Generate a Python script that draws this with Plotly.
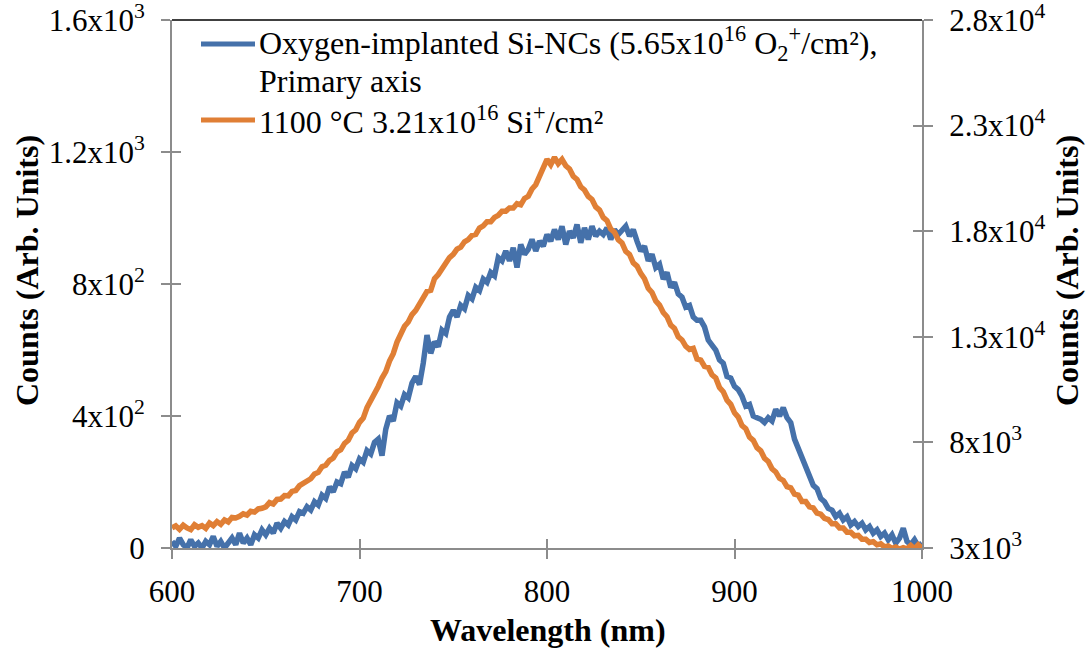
import plotly.graph_objects as go

wavelength = list(range(600, 1001, 2))

blue_counts = [
    20, 5, 30, 10, 0, 25, 5, 15, 0, 20,
    10, 35, 5, 20, 0, 15, 30, 10, 45, 15,
    30, 10, 40, 30, 55, 40, 60, 45, 75, 60,
    80, 70, 95, 85, 110, 105, 125, 115, 140, 130,
    160, 150, 185, 170, 200, 195, 230, 215, 250, 240,
    270, 260, 295, 285, 320, 330, 280, 360, 400, 385,
    440, 430, 465, 455, 500, 520, 495, 560, 645, 590,
    625, 610, 660, 650, 700, 720, 700, 735, 725, 765,
    755, 790, 780, 815, 805, 835, 825, 880, 870, 900,
    870, 910, 850, 920, 890, 905, 935, 900, 930, 915,
    950, 930, 965, 935, 975, 920, 960, 940, 980, 925,
    970, 935, 975, 945, 960, 950, 970, 935, 965, 950,
    960, 975, 945, 965, 930, 900, 915, 870, 890, 850,
    860, 815, 835, 790, 805, 770, 760, 730, 735, 700,
    690, 690, 670, 630, 615, 600, 570, 560, 520, 515,
    490, 480, 460, 430, 435, 400, 395, 390, 380, 395,
    385, 420, 400, 425, 395, 380, 330, 300, 270, 240,
    220, 190, 180, 150, 140, 120, 115, 95, 105, 85,
    95, 70, 80, 65, 75, 55, 65, 45, 55, 35,
    45, 25, 40, 15, 30, 60, 20, 10, 25, 5,
    15,
]

orange_counts = [
    3950, 4050, 3880, 4080, 3950, 3870, 4100, 3980, 4060, 3930,
    4180, 4060, 4250, 4120, 4330, 4230, 4450, 4420, 4500, 4620,
    4560, 4740, 4700, 4850, 4880, 4950, 5150, 5080, 5300, 5320,
    5480, 5470, 5680, 5720, 5950, 6050, 6180, 6280, 6500, 6580,
    6850, 6920, 7150, 7260, 7550, 7650, 7950, 8100, 8450, 8600,
    8950, 9150, 9650, 9950, 10350, 10650, 11050, 11350, 11850, 12200,
    12750, 13100, 13500, 13700, 14050, 14250, 14550, 14750, 15150, 15200,
    15750, 15950, 16250, 16450, 16750, 16900, 17150, 17250, 17500, 17600,
    17800, 17850, 18150, 18250, 18450, 18450, 18650, 18750, 18950, 18950,
    19100, 19100, 19300, 19250, 19550, 19650, 20000, 20200, 20650, 20950,
    21400, 21150, 21500, 21200, 21400, 21100, 20950, 20600, 20450, 20100,
    19950, 19650, 19500, 19150, 19000, 18650, 18500, 18100, 17950, 17600,
    17450, 17050, 16900, 16500, 16350, 16000, 15750, 15300, 15100, 14700,
    14500, 14150, 13950, 13550, 13400, 13000, 12850, 12550, 12400, 12450,
    11950, 11900, 11600, 11550, 11200, 11050, 10600, 10400, 10000, 9800,
    9400, 9200, 8800, 8650, 8250, 8100, 7750, 7600, 7250, 7100,
    6750, 6600, 6300, 6200, 5900, 5850, 5550, 5500, 5200, 5200,
    4950, 4900, 4650, 4600, 4400, 4350, 4150, 4150, 3950, 3950,
    3750, 3750, 3580, 3600, 3420, 3420, 3260, 3300, 3150, 3200,
    3050, 3100, 2980, 3050, 2950, 3020, 2960, 3120, 2960, 3150,
    3000,
]

x_ticks = [600, 700, 800, 900, 1000]
left_tickvals = [0, 400, 800, 1200, 1600]
left_ticktext = ["0", "4x10<sup>2</sup>", "8x10<sup>2</sup>", "1.2x10<sup>3</sup>", "1.6x10<sup>3</sup>"]
right_tickvals = [3000, 8000, 13000, 18000, 23000, 28000]
right_ticktext = ["3x10<sup>3</sup>", "8x10<sup>3</sup>", "1.3x10<sup>4</sup>", "1.8x10<sup>4</sup>",
                  "2.3x10<sup>4</sup>", "2.8x10<sup>4</sup>"]

blue_name_l1 = "Oxygen-implanted Si-NCs (5.65x10<sup>16</sup> O<sub>2</sub><sup>+</sup>/cm²),"
blue_name_l2 = "Primary axis"
orange_name = "1100 °C 3.21x10<sup>16</sup> Si<sup>+</sup>/cm²"

BLUE = "#4571AA"
ORANGE = "#E07F35"
AXIS = "#8C8C8C"
FONT = "Times New Roman, Liberation Serif, Tinos, DejaVu Serif, serif"

# plot area in pixels: x 172..922, y 20..548
def px(xp):
    return (xp - 172) / 750.0

def py(yp):
    return (548 - yp) / 528.0

fig = go.Figure()
fig.add_trace(go.Scatter(x=wavelength, y=blue_counts, mode="lines", name="blue",
                         line=dict(color=BLUE, width=5.5), yaxis="y", showlegend=False))
fig.add_trace(go.Scatter(x=wavelength, y=orange_counts, mode="lines", name="orange",
                         line=dict(color=ORANGE, width=5.5), yaxis="y2", showlegend=False))
fig.add_trace(go.Scatter(x=[None], y=[None], xaxis="x2", yaxis="y3", showlegend=False, hoverinfo="skip"))
fig.add_trace(go.Scatter(x=[None], y=[None], xaxis="x2", yaxis="y4", showlegend=False, hoverinfo="skip"))

tickfont = dict(family=FONT, size=31, color="black")
legfont = dict(family=FONT, size=32, color="black")
titlefont = dict(family=FONT, size=32, color="black")

fig.update_layout(
    width=1087, height=648,
    margin=dict(l=172, r=165, t=20, b=100, autoexpand=False),
    paper_bgcolor="white", plot_bgcolor="white",
    font=dict(family=FONT, size=31, color="black"),
    showlegend=False,
    xaxis=dict(range=[600, 1000], tickvals=x_ticks, ticks="outside", ticklen=9,
               tickcolor=AXIS, tickwidth=1.5, showline=True, linecolor=AXIS, linewidth=2,
               showgrid=False, zeroline=False, tickfont=tickfont, ticklabelstandoff=6,
               ticklabeloverflow="allow", automargin=False),
    xaxis2=dict(range=[600, 1000], overlaying="x", tickvals=x_ticks, ticks="inside", ticklen=9,
                tickcolor=AXIS, tickwidth=1.5, showticklabels=False, showline=False,
                showgrid=False, zeroline=False, automargin=False),
    yaxis=dict(range=[0, 1600], tickvals=left_tickvals, ticktext=left_ticktext,
               ticks="outside", ticklen=9, tickcolor=AXIS, tickwidth=1.5,
               showline=True, linecolor=AXIS, linewidth=2, showgrid=False, zeroline=False,
               tickfont=tickfont, ticklabelstandoff=10, ticklabeloverflow="allow",
               automargin=False),
    yaxis2=dict(range=[3000, 28000], overlaying="y", side="right", tickvals=right_tickvals,
                ticktext=right_ticktext, ticks="outside", ticklen=9, tickcolor=AXIS, tickwidth=1.5,
                showline=True, linecolor=AXIS, linewidth=2, showgrid=False, zeroline=False,
                tickfont=tickfont, ticklabelstandoff=10, ticklabeloverflow="allow",
                automargin=False),
    yaxis3=dict(range=[0, 1600], overlaying="y", side="left", tickvals=left_tickvals,
                ticks="inside", ticklen=9, tickcolor=AXIS, tickwidth=1.5, showticklabels=False,
                showline=False, showgrid=False, zeroline=False, automargin=False),
    yaxis4=dict(range=[3000, 28000], overlaying="y", side="right", tickvals=right_tickvals,
                ticks="inside", ticklen=9, tickcolor=AXIS, tickwidth=1.5, showticklabels=False,
                showline=False, showgrid=False, zeroline=False, automargin=False),
    shapes=[
        dict(type="line", xref="paper", yref="paper", x0=0, x1=1, y0=1, y1=1,
             line=dict(color="black", width=1.5)),
        dict(type="line", xref="paper", yref="paper", x0=px(201), x1=px(255), y0=py(44), y1=py(44),
             line=dict(color=BLUE, width=5)),
        dict(type="line", xref="paper", yref="paper", x0=px(201), x1=px(255), y0=py(120), y1=py(120),
             line=dict(color=ORANGE, width=5)),
    ],
    annotations=[
        dict(text=blue_name_l1, xref="paper", yref="paper", x=px(257), y=py(44),
             xanchor="left", yanchor="middle", showarrow=False, font=legfont),
        dict(text=blue_name_l2, xref="paper", yref="paper", x=px(257), y=py(81),
             xanchor="left", yanchor="middle", showarrow=False, font=legfont),
        dict(text=orange_name, xref="paper", yref="paper", x=px(257), y=py(120),
             xanchor="left", yanchor="middle", showarrow=False, font=legfont),
        dict(text="<b>Wavelength (nm)</b>", xref="paper", yref="paper", x=px(548), y=py(630),
             xanchor="center", yanchor="middle", showarrow=False, font=titlefont),
        dict(text="<b>Counts (Arb. Units)</b>", xref="paper", yref="paper", x=px(27), y=py(271),
             xanchor="center", yanchor="middle", textangle=-90, showarrow=False, font=titlefont),
        dict(text="<b>Counts (Arb. Units)</b>", xref="paper", yref="paper", x=px(1067), y=py(271),
             xanchor="center", yanchor="middle", textangle=-90, showarrow=False, font=titlefont),
    ],
)

fig.write_html("out.html")
